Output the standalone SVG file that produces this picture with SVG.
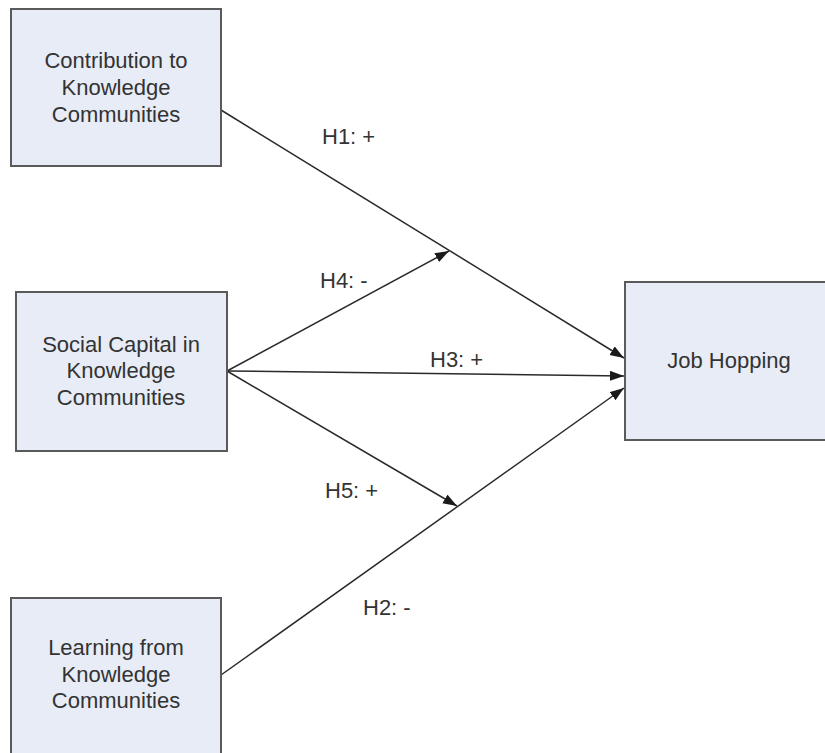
<svg xmlns="http://www.w3.org/2000/svg" width="825" height="753" viewBox="0 0 825 753">
<style>
.box{fill:#e7ecf6;stroke:#5a5a5a;stroke-width:2}
.t{font-family:"Liberation Sans",Arial,sans-serif;font-size:22px;fill:#333;text-anchor:middle}
.l{font-family:"Liberation Sans",Arial,sans-serif;font-size:22px;fill:#333}
.c{stroke:#2a2a2a;stroke-width:1.5;fill:none;marker-end:url(#ah)}
</style>
<defs>
<marker id="ah" markerUnits="userSpaceOnUse" markerWidth="15" markerHeight="11" refX="14" refY="5" orient="auto">
<path d="M0,0 L14,5 L0,10 z" fill="#1a1a1a"/>
</marker>
</defs>
<rect width="825" height="753" fill="#fff"/>
<g id="connectors">
<line class="c" x1="221" y1="110" x2="624" y2="358"/>
<line class="c" x1="227" y1="371" x2="449" y2="251"/>
<line class="c" x1="227" y1="371" x2="624" y2="376"/>
<line class="c" x1="227" y1="371" x2="457" y2="506"/>
<line class="c" x1="221" y1="675" x2="624" y2="388"/>
<text class="l" x="322" y="144">H1: +</text>
<text class="l" x="320" y="288">H4: -</text>
<text class="l" x="430" y="367">H3: +</text>
<text class="l" x="325" y="498">H5: +</text>
<text class="l" x="363" y="615">H2: -</text>
</g>
<g id="contribution">
<rect class="box" x="11" y="9" width="210" height="157"/>
<text class="t" x="116" y="68">Contribution to</text>
<text class="t" x="116" y="95">Knowledge</text>
<text class="t" x="116" y="122">Communities</text>
</g>
<g id="social">
<rect class="box" x="16" y="292" width="211" height="159"/>
<text class="t" x="121" y="352">Social Capital in</text>
<text class="t" x="121" y="378">Knowledge</text>
<text class="t" x="121" y="405">Communities</text>
</g>
<g id="learning">
<rect class="box" x="11" y="598" width="210" height="170"/>
<text class="t" x="116" y="655">Learning from</text>
<text class="t" x="116" y="682">Knowledge</text>
<text class="t" x="116" y="708">Communities</text>
</g>
<g id="jobhopping">
<rect class="box" x="625" y="282" width="215" height="158"/>
<text class="t" x="729" y="368">Job Hopping</text>
</g>
</svg>
